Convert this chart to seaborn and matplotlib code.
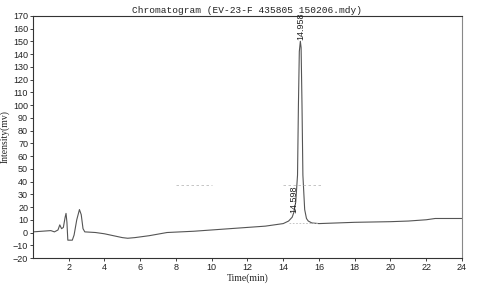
import matplotlib
matplotlib.use("Agg")
import matplotlib.pyplot as plt
import seaborn as sns
import pandas as pd

time_min = [0.0, 0.5, 1.0, 1.2, 1.4, 1.5, 1.6, 1.7, 1.8, 1.85, 1.9, 1.95, 2.2, 2.3,
            2.45, 2.6, 2.7, 2.8, 2.9, 3.5, 4.0, 4.5, 5.0, 5.3, 5.7, 6.5, 7.5, 9.0,
            10.0, 11.0, 12.0, 13.0, 14.0, 14.3, 14.5, 14.6, 14.7, 14.8, 14.85, 14.9, 14.958,
            15.0, 15.05, 15.1, 15.2, 15.3, 15.4, 15.6, 16.0, 18.0, 20.0, 21.0, 22.0, 22.5, 24.0]
intensity = [0.5, 1.0, 1.5, 0.5, 2.0, 6.0, 3.0, 4.0, 12.0, 15.0, 8.0, -6.0, -6.0, -2.0,
             10.0, 18.0, 14.0, 3.0, 0.5, 0.0, -1.0, -2.5, -4.0, -4.5, -4.0, -2.5, 0.0, 1.0,
             2.0, 3.0, 4.0, 5.0, 7.0, 9.0, 12.0, 16.0, 24.0, 45.0, 100.0, 142.0, 150.0,
             145.0, 100.0, 45.0, 18.0, 11.0, 9.0, 7.5, 7.0, 8.0, 8.5, 9.0, 10.0, 11.0, 11.0]

peak_times = [14.598, 14.958]
peak_labels = ["14.598", "14.958"]
peak_label_y = [15.0, 151.0]

x_ticks = [2, 4, 6, 8, 10, 12, 14, 16, 18, 20, 22, 24]
y_ticks = list(range(-20, 171, 10))

title = "Chromatogram (EV-23-F 435805 150206.mdy)"
x_label = "Time(min)"
y_label = "Intensity(mv)"

sns.set_style("white")
plt.rcParams["font.family"] = ["Liberation Sans", "DejaVu Sans"]

fig = plt.figure(figsize=(4.92, 2.84), dpi=100)
ax = fig.add_axes([0.067, 0.0915, 0.872, 0.853])

df = pd.DataFrame({"t": time_min, "v": intensity})
sns.lineplot(data=df, x="t", y="v", ax=ax, color="#555555", linewidth=0.8, sort=False)

# faint dashed integration marks
ax.plot([8, 10], [37, 37], color="#bbbbbb", linestyle=(0, (3, 3)), linewidth=0.6)
ax.plot([14, 16.2], [37, 37], color="#bbbbbb", linestyle=(0, (3, 3)), linewidth=0.6)
ax.plot([14.3, 16.0], [7.5, 7.5], color="#bbbbbb", linestyle=(0, (2, 2)), linewidth=0.6)

for t, lab, yy in zip(peak_times, peak_labels, peak_label_y):
    ax.text(t, yy, lab, rotation=90, ha="center", va="bottom", fontsize=6.5, color="#222222")

ax.set_xlim(0, 24)
ax.set_ylim(-20, 170)
ax.set_xticks(x_ticks)
ax.set_yticks(y_ticks)
ax.tick_params(axis="both", labelsize=6.5, length=2, width=0.6, pad=1.5, colors="#222222",
               direction="out", left=True, bottom=True)
ax.set_xlabel(x_label, fontsize=7, family=["Liberation Serif"], labelpad=1)
ax.set_ylabel(y_label, fontsize=7, family=["Liberation Serif"], labelpad=2)
ax.set_title(title, fontsize=6.8, family=["Liberation Mono"], pad=2, color="#222222")

for side in ["left", "bottom", "top"]:
    ax.spines[side].set_color("#333333")
    ax.spines[side].set_linewidth(0.8)
ax.spines["right"].set_color("#888888")
ax.spines["right"].set_linewidth(0.8)

fig.savefig("out.png", dpi=100)
